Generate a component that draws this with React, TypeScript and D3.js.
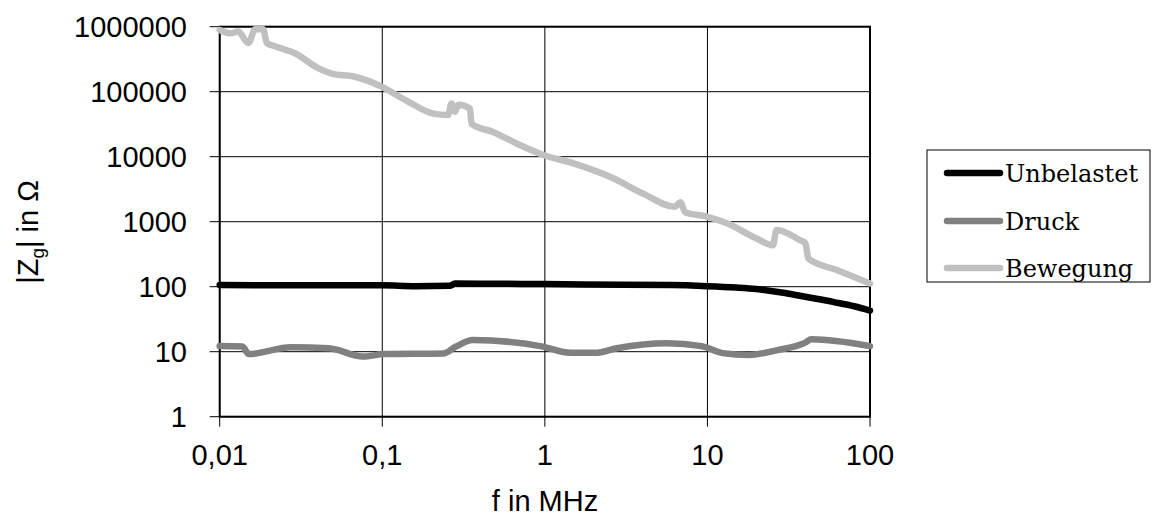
import React from "react";
import * as d3 from "d3";

// Data: frequency in MHz, impedance in Ohm
const unbelastetF = [0.01, 0.03, 0.1, 0.16, 0.26, 0.28, 0.5, 1, 3, 6, 10, 15, 20, 30, 40, 60, 80, 100];
const unbelastetZ = [106, 105, 105, 102, 103, 112, 111, 110, 107, 106, 102, 97, 92, 80, 70, 58, 50, 43];

const druckF = [0.01, 0.0138, 0.0151, 0.0275, 0.047, 0.076, 0.103, 0.237, 0.284, 0.36, 0.94, 1.44, 2.04, 2.77, 5.6, 9.2, 12.4, 17.9, 27.0, 40.0, 43.6, 100];
const druckZ = [12.2, 12.0, 9.2, 11.7, 11.3, 8.4, 9.2, 9.4, 12.0, 15.1, 12.2, 9.6, 9.6, 11.3, 13.5, 12.2, 9.5, 8.9, 10.6, 13.8, 15.5, 12.2];

const bewegungF = [0.01, 0.0116, 0.013, 0.015, 0.0165, 0.0185, 0.0195, 0.0219, 0.029, 0.0404, 0.0488, 0.0679, 0.099, 0.128, 0.145, 0.206, 0.254, 0.267, 0.28, 0.294, 0.346, 0.354, 0.48, 0.67, 0.98, 1.5, 2.52, 4.02, 6.3, 6.8, 7.3, 9.9, 13.2, 20.1, 25.3, 26.6, 37.0, 40.0, 41.8, 62.5, 100];
const bewegungZ = [890000, 790000, 840000, 560000, 910000, 910000, 560000, 500000, 390000, 230000, 190000, 170000, 120000, 83000, 70000, 46000, 44000, 66000, 49000, 63000, 55000, 32000, 24000, 16000, 10600, 7900, 4900, 2700, 1700, 2000, 1400, 1200, 944, 550, 436, 745, 522, 470, 272, 180, 112];

const xTicks = [0.01, 0.1, 1, 10, 100];
const xTickLabels = ["0,01", "0,1", "1", "10", "100"];
const yTicks = [1, 10, 100, 1000, 10000, 100000, 1000000];
const yTickLabels = ["1", "10", "100", "1000", "10000", "100000", "1000000"];

const seriesNames = ["Unbelastet", "Druck", "Bewegung"];
const seriesColors = ["#000000", "#808080", "#c0c0c0"];

export default function App() {
  const W = 1156, H = 523;
  const left = 219.7, right = 870, top = 26.7, bottom = 416.7;
  const x = d3.scaleLog().domain([0.01, 100]).range([left, right]);
  const y = d3.scaleLog().domain([1, 1000000]).range([bottom, top]);
  const line = d3.line<[number, number]>().x(d => x(d[0])).y(d => y(d[1])).curve(d3.curveMonotoneX);

  const series = [
    { f: unbelastetF, z: unbelastetZ },
    { f: druckF, z: druckZ },
    { f: bewegungF, z: bewegungZ },
  ];
  const drawOrder = [2, 1, 0];

  const legX = 927, legY = 150, legW = 223, legH = 132;
  const legRows = [173, 221, 268];
  const sans = "Liberation Sans, Arial, sans-serif";

  return (
    <svg width={W} height={H} style={{ position: "absolute", left: 0, top: 0, background: "#fff" }}>
      {xTicks.map((t, i) => (
        <line key={"gx" + i} x1={x(t)} x2={x(t)} y1={top} y2={bottom + 10} stroke="#000" strokeWidth={1} />
      ))}
      {yTicks.map((t, i) => (
        <line key={"gy" + i} x1={left - 10} x2={right} y1={y(t)} y2={y(t)} stroke="#000" strokeWidth={1} />
      ))}
      <rect x={left} y={top} width={right - left} height={bottom - top} fill="none" stroke="#000" strokeWidth={2} />
      {yTicks.map((t, i) => (
        <text key={"yl" + i} x={187} y={y(t)} dy="0.36em" textAnchor="end" fontFamily={sans} fontSize={29} fill="#000">
          {yTickLabels[i]}
        </text>
      ))}
      {xTicks.map((t, i) => (
        <text key={"xl" + i} x={x(t)} y={465} textAnchor="middle" fontFamily={sans} fontSize={29} fill="#000">
          {xTickLabels[i]}
        </text>
      ))}
      <text x={545} y={511} textAnchor="middle" fontFamily={sans} fontSize={29} fill="#000">f in MHz</text>
      <text transform={`translate(38,232) rotate(-90)`} textAnchor="middle" fontFamily={sans} fontSize={29} fill="#000">
        |Z<tspan fontSize={19} dy={6}>g</tspan><tspan dy={-6}>| in Ω</tspan>
      </text>
      {drawOrder.map(i => {
        const pts: [number, number][] = series[i].f.map((f, k) => [f, series[i].z[k]]);
        return (
          <path key={"s" + i} d={line(pts) || ""} fill="none" stroke={seriesColors[i]} strokeWidth={6.5} strokeLinejoin="round" strokeLinecap="round" />
        );
      })}
      <rect x={legX} y={legY} width={legW} height={legH} fill="#fff" stroke="#000" strokeWidth={1} />
      {seriesNames.map((n, i) => (
        <g key={"lg" + i}>
          <line x1={947} x2={1000} y1={legRows[i]} y2={legRows[i]} stroke={seriesColors[i]} strokeWidth={6.5} strokeLinecap="round" />
          <text x={1005} y={legRows[i]} dy="0.36em" fontFamily="DejaVu Serif, serif" fontSize={24} fill="#000">{n}</text>
        </g>
      ))}
    </svg>
  );
}
